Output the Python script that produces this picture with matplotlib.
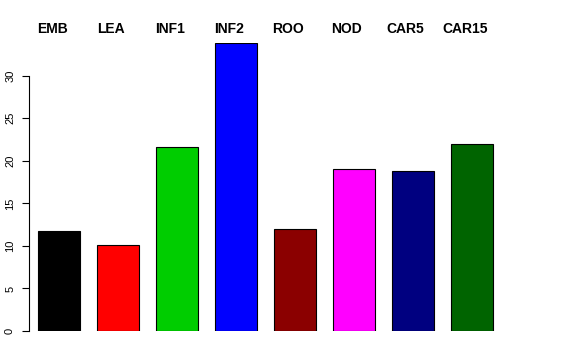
import matplotlib
matplotlib.use('Agg')
import matplotlib.pyplot as plt
import numpy as np

plt.rcParams['font.family'] = ['Liberation Sans', 'DejaVu Sans']

tissues = ['EMB', 'LEA', 'INF1', 'INF2', 'ROO', 'NOD', 'CAR5', 'CAR15']
values  = [11.75, 10.1, 21.65, 33.85, 12.0, 19.05, 18.85, 21.95]
colours = ['black', 'red', '#00CD00', 'blue', '#8B0000', 'magenta', '#000080', '#006400']
yticks  = [0, 5, 10, 15, 20, 25, 30]

W, H = 576, 360
fig = plt.figure(figsize=(W / 100, H / 100), dpi=100)
# plot region in pixels (R-style barplot, yaxs="i")
left, right, top, bottom = 29, 502, 43, 331
ax = fig.add_axes([left / W, 1 - bottom / H, (right - left) / W, (bottom - top) / H])

# R barplot with space=0.4, width=1
x = 0.4 + 1.4 * np.arange(len(values)) + 0.5
ax.bar(x, values, width=1.0, color=colours, edgecolor='black', linewidth=0.8)

ax.set_xlim(0.4 - 9 / 42.1, x[-1] + 0.5 + 9 / 42.1)
ax.set_ylim(0, max(values))

for s in ['top', 'right', 'bottom']:
    ax.spines[s].set_visible(False)
ax.spines['left'].set_bounds(0, 30)
ax.spines['left'].set_linewidth(0.8)
ax.set_xticks([])
ax.set_yticks(yticks)
ax.set_yticklabels([str(t) for t in yticks], rotation=90, va='center', fontsize=8)
ax.tick_params(axis='y', length=5, width=0.8, pad=5)

# tissue names above the bars
for xi, name in zip(x, tissues):
    fig.text((left + (xi - ax.get_xlim()[0]) * 42.1 - 7) / W, 1 - 29 / H, name,
             ha='center', va='center', fontsize=10, fontweight='bold')

fig.savefig('out.png', dpi=100)
